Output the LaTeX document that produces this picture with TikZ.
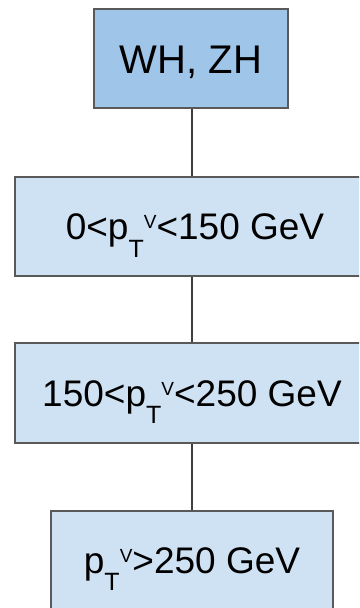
\documentclass[tikz,border=0pt]{standalone}
\usepackage{fontspec}
\setmainfont{Liberation Sans}
\definecolor{topfill}{HTML}{9FC5E8}
\definecolor{binfill}{HTML}{CFE2F3}
\definecolor{edge}{HTML}{595959}
\definecolor{conn}{HTML}{3F3F3F}
\newcommand{\pTV}{p\raisebox{-17.5pt}{\fontsize{25}{25}\selectfont T}\raisebox{11pt}{\fontsize{19}{19}\selectfont V}}
\begin{document}
\begin{tikzpicture}[x=1pt,y=1pt,
  boxbase/.style={draw=edge, line width=1.3pt, inner sep=0pt, text=black},
  topbox/.style={boxbase, fill=topfill, font=\fontsize{40}{40}\selectfont, text height=29pt, text depth=0pt},
  binbox/.style={boxbase, fill=binfill, font=\fontsize{37}{37}\selectfont, text height=26pt, text depth=0pt},
  link/.style={draw=conn, line width=2.4pt}]
\clip (0,0) rectangle (359,-608);
\fill[white] (0,0) rectangle (359,-608);
\node[topbox, minimum width=194pt, minimum height=99pt] (top) at (191,-58.5) {WH, ZH};
\node[binbox, minimum width=360pt, minimum height=99pt] (b1) at (195,-226.5) {0<\pTV<150 GeV};
\node[binbox, minimum width=354pt, minimum height=100pt] (b2) at (192,-393) {150<\pTV<250 GeV};
\node[binbox, minimum width=282pt, minimum height=98pt] (b3) at (192,-560) {\pTV>250 GeV};
\draw[link] ([xshift=1pt]top.south) -- ([xshift=1pt]top.south |- b1.north);
\draw[link] ([xshift=1pt]top.south |- b1.south) -- ([xshift=1pt]top.south |- b2.north);
\draw[link] (b2.south) -- (b3.north);
\end{tikzpicture}
\end{document}
